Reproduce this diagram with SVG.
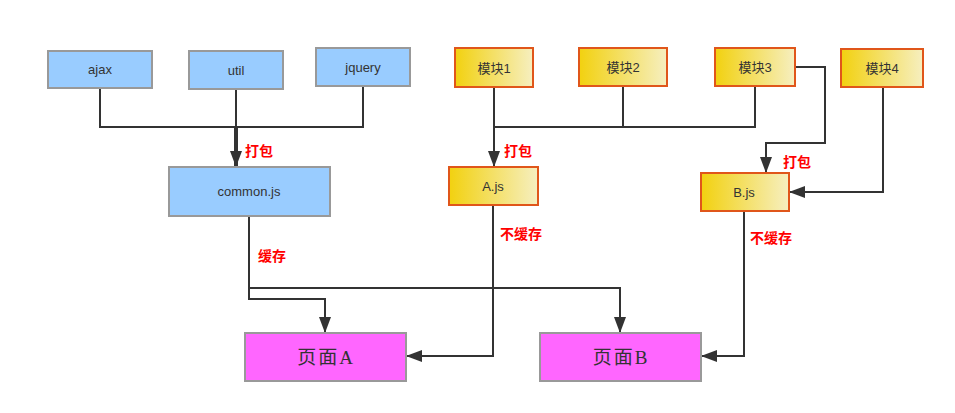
<svg xmlns="http://www.w3.org/2000/svg" width="955" height="413" viewBox="0 0 955 413">
<style>
.blue{fill:#99ccff;stroke:#999;stroke-width:2}
.yel{fill:url(#yg);stroke:#e0561a;stroke-width:2}
.pink{fill:#ff66ff;stroke:#999;stroke-width:2}
.t{font-family:"Liberation Sans","Noto Sans CJK SC",sans-serif;font-size:13px;fill:#333;text-anchor:middle;dominant-baseline:central}
.p{font-family:"Liberation Serif","Noto Sans CJK SC",serif;font-size:19px;fill:#333;text-anchor:middle;dominant-baseline:central;letter-spacing:2px}
.lbl{font-family:"Noto Sans CJK SC",sans-serif;font-size:14px;font-weight:bold;fill:#f00;dominant-baseline:central}
.ln{fill:none;stroke:#333;stroke-width:2}
</style>
<defs>
<linearGradient id="yg" x1="0" y1="0" x2="1" y2="0">
<stop offset="0" stop-color="#f2d10f"/>
<stop offset="1" stop-color="#f6efc0"/>
</linearGradient>
<marker id="a" viewBox="0 0 16 12" refX="16" refY="6" markerWidth="16" markerHeight="12" markerUnits="userSpaceOnUse" orient="auto">
<path d="M0,0 L16,6 L0,12 z" fill="#333"/>
</marker>
</defs>
<g id="connectors">
<path class="ln" d="M100,89 V127 H363 V86"/>
<path class="ln" d="M236,89 V127"/>
<path class="ln" style="stroke-width:4" d="M236,127 V167" marker-end="url(#a)"/>
<path class="ln" d="M494,87 V167" marker-end="url(#a)"/>
<path class="ln" d="M494,127 H755 V86"/>
<path class="ln" d="M623,86 V127"/>
<path class="ln" d="M795,67 H825 V143 H766 V173" marker-end="url(#a)"/>
<path class="ln" d="M883,87 V192 H789" marker-end="url(#a)"/>
<path class="ln" d="M249,216 V299 H325 V333" marker-end="url(#a)"/>
<path class="ln" d="M249,288 H620 V333" marker-end="url(#a)"/>
<path class="ln" d="M493,205 V356 H406" marker-end="url(#a)"/>
<path class="ln" d="M744,211 V356 H701" marker-end="url(#a)"/>
</g>
<g id="labels">
<text class="lbl" x="245" y="150">打包</text>
<text class="lbl" x="504" y="150">打包</text>
<text class="lbl" x="783" y="161">打包</text>
<text class="lbl" x="258" y="255">缓存</text>
<text class="lbl" x="500" y="233">不缓存</text>
<text class="lbl" x="750" y="237">不缓存</text>
</g>
<g id="ajax"><rect class="blue" x="48" y="51" width="104" height="37"/><text class="t" x="100" y="69">ajax</text></g>
<g id="util"><rect class="blue" x="189" y="51" width="94" height="38"/><text class="t" x="236" y="70">util</text></g>
<g id="jquery"><rect class="blue" x="316" y="48" width="94" height="38"/><text class="t" x="363" y="67">jquery</text></g>
<g id="common"><rect class="blue" x="169" y="167" width="161" height="49"/><text class="t" x="249" y="191">common.js</text></g>
<g id="m1"><rect class="yel" x="455" y="48" width="78" height="39"/><text class="t" x="494" y="68">模块1</text></g>
<g id="m2"><rect class="yel" x="579" y="48" width="88" height="38"/><text class="t" x="623" y="67">模块2</text></g>
<g id="m3"><rect class="yel" x="715" y="48" width="80" height="38"/><text class="t" x="755" y="67">模块3</text></g>
<g id="m4"><rect class="yel" x="841" y="49" width="82" height="38"/><text class="t" x="882" y="68">模块4</text></g>
<g id="ajs"><rect class="yel" x="449" y="167" width="89" height="38"/><text class="t" x="493" y="186">A.js</text></g>
<g id="bjs"><rect class="yel" x="701" y="173" width="88" height="38"/><text class="t" x="744" y="192">B.js</text></g>
<g id="pageA"><rect class="pink" x="245" y="333" width="161" height="48"/><text class="p" x="326" y="357">页面A</text></g>
<g id="pageB"><rect class="pink" x="540" y="333" width="161" height="48"/><text class="p" x="621" y="357">页面B</text></g>
</svg>
